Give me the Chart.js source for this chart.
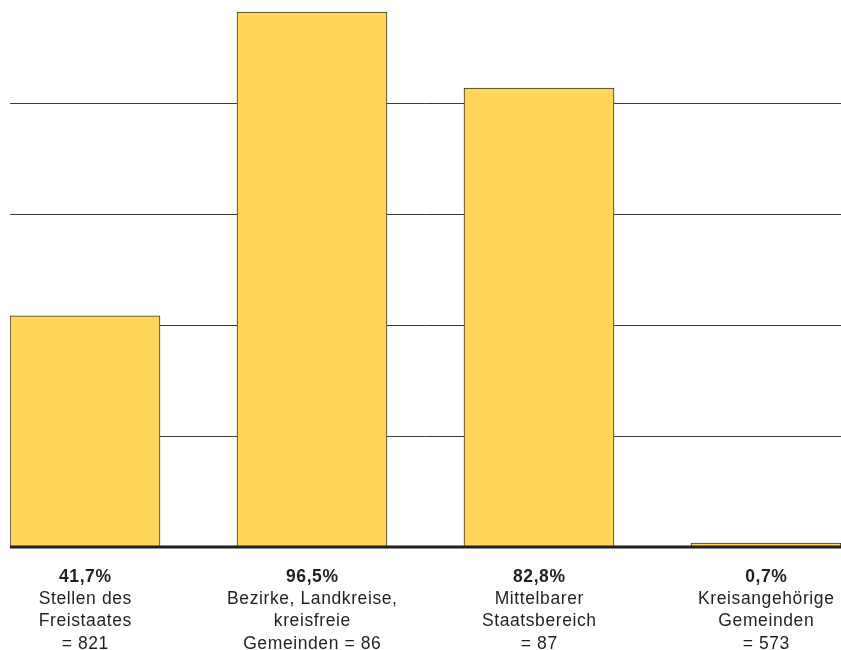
<!DOCTYPE html>
<html lang="de">
<head>
<meta charset="utf-8">
<title>Anteile</title>
<script src="https://cdn.jsdelivr.net/npm/chart.js@4.4.1/dist/chart.umd.min.js"></script>
<style>
    html, body { margin: 0; padding: 0; background: #fff; }
    #wrap { width: 841px; height: 650px; position: relative; }
</style>
</head>
<body>
<div id="wrap"><canvas id="barChart"></canvas></div>
<script>
const categories = [
    ['Stellen des', 'Freistaates', '= 821'],
    ['Bezirke, Landkreise,', 'kreisfreie', 'Gemeinden = 86'],
    ['Mittelbarer', 'Staatsbereich', '= 87'],
    ['Kreisangehörige', 'Gemeinden', '= 573']
];
const values = [41.7, 96.5, 82.8, 0.7];
const yTicks = [0, 20, 40, 60, 80];

const textFont = '"Liberation Sans", Arial, sans-serif';

// labels under the bars: bold percentage, then the category lines
const labelPlugin = {
    id: 'labelPlugin',
    afterDatasetsDraw(chart) {
        const ctx = chart.ctx;
        const x = chart.scales.x;
        const y = chart.scales.y;
        const base = y.getPixelForValue(0);

        ctx.save();
        ctx.strokeStyle = '#231f20';
        ctx.lineWidth = 3;
        ctx.beginPath();
        ctx.moveTo(chart.chartArea.left, base);
        ctx.lineTo(chart.chartArea.right, base);
        ctx.stroke();

        ctx.fillStyle = '#231f20';
        ctx.textAlign = 'center';
        ctx.textBaseline = 'alphabetic';
        ctx.letterSpacing = '0.6px';
        categories.forEach(function(lines, i) {
            const cx = x.getPixelForValue(i) + 0.3;
            let ty = base + 34.5;
            ctx.font = 'bold 17.5px ' + textFont;
            ctx.fillText(values[i].toFixed(1).replace('.', ',') + '%', cx, ty);
            ctx.font = '17.5px ' + textFont;
            lines.forEach(function(line) {
                ty += 22.4;
                ctx.fillText(line, cx, ty);
            });
        });
        ctx.restore();
    }
};

document.addEventListener('DOMContentLoaded', function() {
    const ctx = document.getElementById('barChart').getContext('2d');
    new Chart(ctx, {
        type: 'bar',
        data: {
            datasets: [{
                data: values.map((v, i) => ({ x: i, y: v })),
                backgroundColor: '#ffd55a',
                borderColor: '#333333',
                borderWidth: 1,
                barThickness: 150
            }]
        },
        options: {
            responsive: true,
            maintainAspectRatio: false,
            animation: false,
            layout: { padding: { left: 10, right: 0, top: 0, bottom: 103 } },
            plugins: {
                legend: { display: false },
                tooltip: { enabled: false }
            },
            scales: {
                x: {
                    type: 'linear',
                    offset: false,
                    min: -0.3304,
                    max: 3.3304,
                    display: false,
                    grid: { offset: false }
                },
                y: {
                    min: 0,
                    max: 98.7,
                    afterBuildTicks: function(scale) {
                        scale.ticks = yTicks.map(v => ({ value: v }));
                    },
                    ticks: { display: false },
                    border: { display: false },
                    grid: {
                        drawTicks: false,
                        color: '#3a3a3a',
                        lineWidth: c => (c.tick && c.tick.value === 0 ? 0 : 1)
                    }
                }
            }
        },
        plugins: [labelPlugin]
    });
});
</script>
</body>
</html>
